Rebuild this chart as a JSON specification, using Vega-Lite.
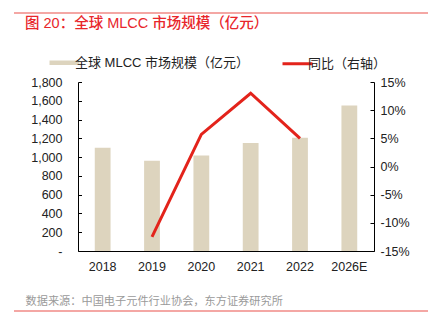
{
  "$schema": "https://vega.github.io/schema/vega-lite/v6.json",
  "width": 296,
  "height": 169,
  "autosize": {"type": "none"},
  "padding": {"left": 78, "top": 82, "right": 54, "bottom": 82},
  "background": "white",
  "config": {
    "font": "Liberation Sans, Noto Sans CJK SC",
    "view": {"stroke": null},
    "axis": {
      "labelFont": "Liberation Sans, Noto Sans CJK SC",
      "labelColor": "#222222",
      "labelFontSize": 12.5,
      "domainColor": "#000000",
      "tickColor": "#000000",
      "domainWidth": 1,
      "tickWidth": 1,
      "grid": false
    }
  },
  "title": {
    "text": "图 20：全球 MLCC 市场规模（亿元）",
    "anchor": "start",
    "frame": "group",
    "dx": -53,
    "dy": 31,
    "offset": 12,
    "font": "Liberation Sans, Noto Sans CJK SC",
    "fontSize": 14.5,
    "fontWeight": 500,
    "color": "#e8262b"
  },
  "data": {
    "values": [
      {"year": "2018", "size": 1100, "yoy": null},
      {"year": "2019", "size": 962, "yoy": -12.5},
      {"year": "2020", "size": 1016, "yoy": 5.7},
      {"year": "2021", "size": 1150, "yoy": 13.0},
      {"year": "2022", "size": 1205, "yoy": 5.0},
      {"year": "2026E", "size": 1550, "yoy": null}
    ]
  },
  "layer": [
    {
      "mark": {"type": "bar"},
      "encoding": {
        "x": {
          "field": "year",
          "type": "ordinal",
          "scale": {"domain": ["2018", "2019", "2020", "2021", "2022", "2026E"], "paddingInner": 0.68, "paddingOuter": 0.34},
          "axis": {
            "ticks": false,
            "labelPadding": 9,
            "labelAngle": 0,
            "title": "数据来源：中国电子元件行业协会，东方证券研究所",
            "titleX": -53,
            "titleY": 50,
            "titleAlign": "left",
            "titleBaseline": "middle",
            "titleFont": "Liberation Sans, Noto Sans CJK SC",
            "titleFontSize": 11.2,
            "titleFontWeight": "normal",
            "titleColor": "#9a9a9a"
          }
        },
        "y": {
          "field": "size",
          "type": "quantitative",
          "scale": {"domain": [0, 1800]},
          "axis": {
            "title": null,
            "values": [0, 200, 400, 600, 800, 1000, 1200, 1400, 1600, 1800],
            "labelExpr": "datum.value == 0 ? '-' : format(datum.value, ',')",
            "tickSize": -3.5,
            "labelPadding": 19.5
          }
        },
        "color": {
          "datum": "全球 MLCC 市场规模（亿元）",
          "scale": {
            "domain": ["全球 MLCC 市场规模（亿元）", "同比（右轴）"],
            "range": ["#ddd4be", "#e3231b"]
          },
          "legend": {
            "title": null,
            "orient": "none",
            "legendX": -20,
            "legendY": -26,
            "direction": "horizontal",
            "padding": 0,
            "symbolType": "stroke",
            "symbolSize": 900,
            "symbolStrokeWidth": 4,
            "labelOffset": 4,
            "labelLimit": 400,
            "columnPadding": 26,
            "labelFont": "Liberation Sans, Noto Sans CJK SC",
            "labelFontSize": 13,
            "labelColor": "#222222",
            "encode": {
              "symbols": {
                "update": {
                  "shape": {"value": "stroke"},
                  "size": {"value": 900},
                  "stroke": {"scale": "color", "field": "value"},
                  "fill": {"value": "transparent"},
                  "strokeWidth": {"signal": "datum.value == '同比（右轴）' ? 3 : 4.5"}
                }
              }
            }
          }
        }
      }
    },
    {
      "transform": [{"filter": "datum.yoy != null"}],
      "mark": {"type": "line", "strokeWidth": 3, "strokeJoin": "miter"},
      "encoding": {
        "x": {"field": "year", "type": "ordinal"},
        "y": {
          "field": "yoy",
          "type": "quantitative",
          "scale": {"domain": [-15, 15]},
          "axis": {
            "orient": "right",
            "title": null,
            "values": [-15, -10, -5, 0, 5, 10, 15],
            "labelExpr": "datum.value + '%'",
            "tickSize": -4,
            "labelPadding": 10
          }
        },
        "color": {"datum": "同比（右轴）"}
      }
    },
    {
      "data": {"values": [{"k": "top"}]},
      "mark": {"type": "rule", "color": "#f08a86", "strokeWidth": 1.5},
      "encoding": {
        "x": {"value": -64},
        "x2": {"value": 350},
        "y": {"value": -69}
      }
    },
    {
      "data": {"values": [{"k": "bottom"}]},
      "mark": {"type": "rule", "color": "#f08a86", "strokeWidth": 1.5},
      "encoding": {
        "x": {"value": -64},
        "x2": {"value": 350},
        "y": {"value": 229}
      }
    }
  ],
  "resolve": {"scale": {"y": "independent"}}
}
